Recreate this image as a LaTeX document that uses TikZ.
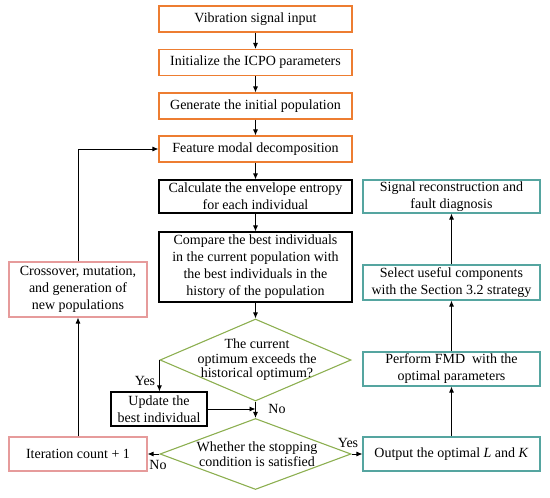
\documentclass[tikz,border=0pt]{standalone}
\usepackage{fontspec}
\setmainfont{Liberation Serif}
\usetikzlibrary{shapes.geometric,arrows.meta}
\definecolor{orng}{RGB}{237,125,49}
\definecolor{pnk}{RGB}{230,155,155}
\definecolor{grn}{RGB}{140,175,80}
\definecolor{tealc}{RGB}{85,165,160}
\begin{document}
\begin{tikzpicture}[x=1pt,y=-1pt,
  every node/.style={font=\fontsize{14}{17}\selectfont},
  box/.style={draw, line width=1.1pt, rectangle, align=center, inner sep=0pt},
  obox/.style={box, draw=orng, minimum width=193, minimum height=26},
  bbox/.style={box, draw=black, minimum width=193},
  pbox/.style={box, draw=pnk, minimum width=138},
  tbox/.style={box, draw=tealc, minimum width=177},
  dia/.style={draw=grn, line width=1.1pt, diamond, inner sep=0pt},
  arr/.style={draw, line width=0.9pt, -{Latex[length=6pt,width=5pt]}},
  lbl/.style={inner sep=0pt}]
\useasboundingbox (0,0) rectangle (550,498);
\node[obox] (v1) at (255.5,19) {Vibration signal input};
\node[obox] (v2) at (255.5,62.5) {Initialize the ICPO parameters};
\node[obox] (v3) at (255.5,106) {Generate the initial population};
\node[obox] (v4) at (255.5,149) {Feature modal decomposition};
\node[bbox, minimum height=33] (calc) at (255.5,196.5) {Calculate the envelope entropy\\for each individual};
\node[bbox, minimum height=70] (cmp) at (255.5,267) {Compare the best individuals\\in the current population with\\the best individuals in the\\history of the population};
\node[dia, minimum width=191, minimum height=82] (d1) at (255.5,360) {};
\node[align=center, font=\fontsize{14}{14.5}\selectfont] at (257,360) {The current\\optimum exceeds the\\historical optimum?};
\node[dia, minimum width=191, minimum height=71] (d2) at (255.5,454) {};
\node[align=center, font=\fontsize{14}{15}\selectfont] at (257,454) {Whether the stopping\\condition is satisfied};
\node[bbox, minimum width=96, minimum height=34] (upd) at (159,409) {Update the\\best individual};
\node[pbox, minimum height=55] (cross) at (78,289.5) {Crossover, mutation,\\and generation of\\new populations};
\node[pbox, minimum height=34] (iter) at (78,454) {Iteration count + 1};
\node[tbox, minimum height=33] (sig) at (451.5,196.5) {Signal reconstruction and\\fault diagnosis};
\node[tbox, minimum height=35] (sel) at (451.5,282.5) {Select useful components\\with the Section 3.2 strategy};
\node[tbox, minimum height=34] (fmd) at (451.5,369) {Perform FMD\ \ with the\\optimal parameters};
\node[tbox, minimum height=34] (out) at (451.5,454) {Output the optimal \textit{L} and \textit{K}};
\path[arr] (v1) -- (v2);
\path[arr] (v2) -- (v3);
\path[arr] (v3) -- (v4);
\path[arr] (v4) -- (calc);
\path[arr] (calc) -- (cmp);
\path[arr] (cmp) -- (d1.north);
\path[arr] (d1.south) -- (d2.north);
\path[arr] (d1.west) -- (d1.west |- upd.north);
\path[arr] (upd.east) -- (upd.east -| d1.south);
\path[arr] (d2.west) -- (iter.east);
\path[arr] (iter.north) -- (cross.south);
\path[arr] (cross.north) |- (v4.west);
\path[arr] (d2.east) -- (out.west);
\path[arr] (out) -- (fmd);
\path[arr] (fmd) -- (sel);
\path[arr] (sel) -- (sig);
\node[lbl] at (145,381) {Yes};
\node[lbl] at (277,409) {No};
\node[lbl] at (158,465) {No};
\node[lbl] at (348,443) {Yes};
\end{tikzpicture}
\end{document}
